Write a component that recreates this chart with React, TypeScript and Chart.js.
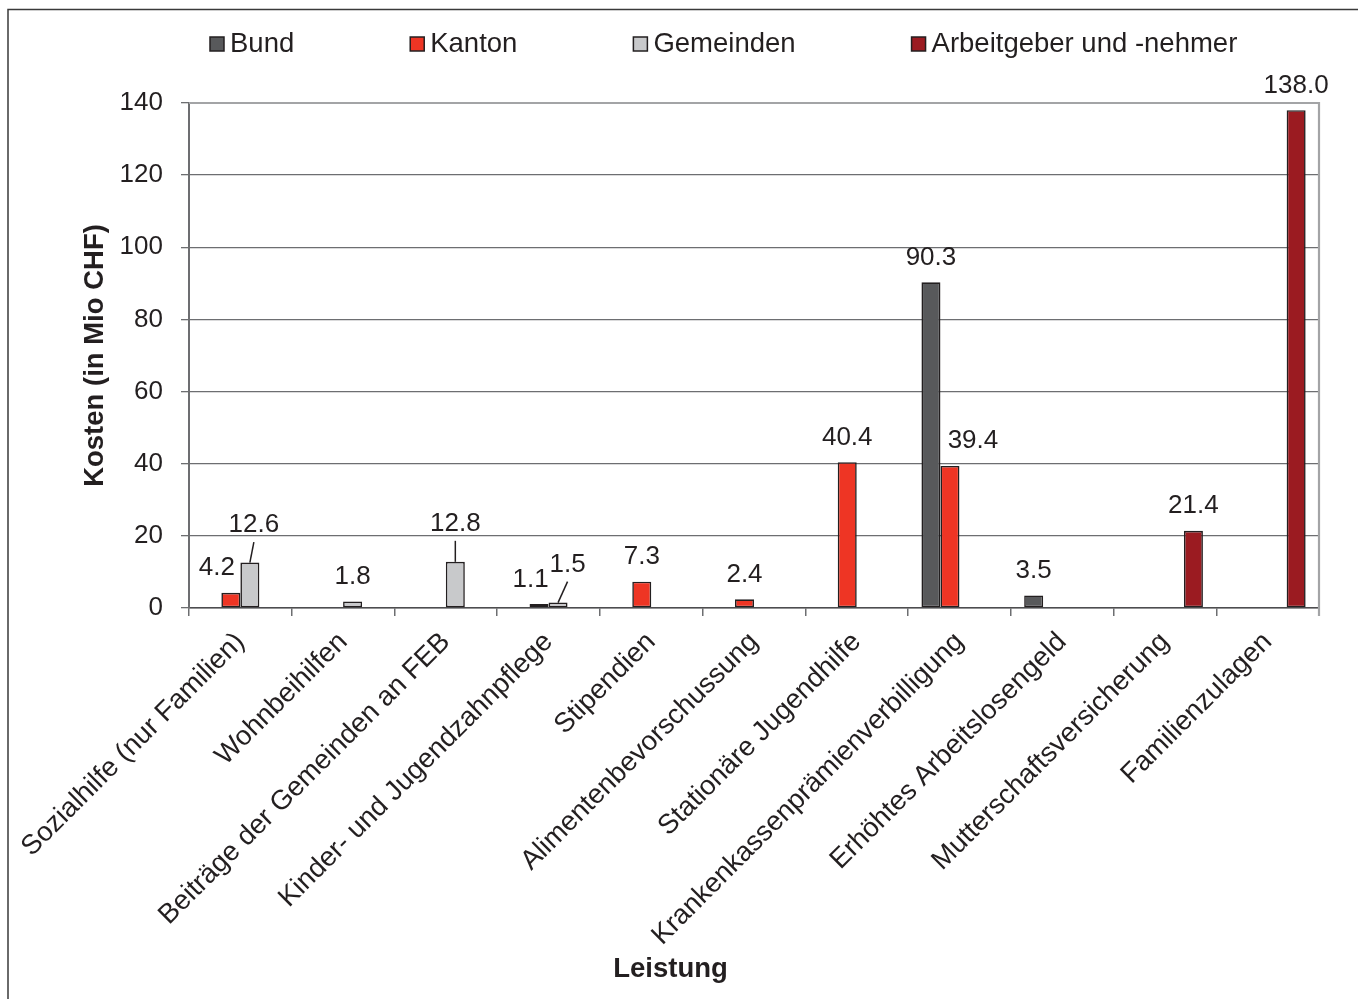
import React, { useEffect, useRef } from 'react';
import { Chart, registerables } from 'chart.js';

Chart.register(...registerables);

// ---------- data ----------
const categories = [
  'Sozialhilfe (nur Familien)',
  'Wohnbeihilfen',
  'Beiträge der Gemeinden an FEB',
  'Kinder- und Jugendzahnpflege',
  'Stipendien',
  'Alimentenbevorschussung',
  'Stationäre Jugendhilfe',
  'Krankenkassenprämienverbilligung',
  'Erhöhtes Arbeitslosengeld',
  'Mutterschaftsversicherung',
  'Familienzulagen',
];

const seriesNames = ['Bund', 'Kanton', 'Gemeinden', 'Arbeitgeber und -nehmer'];

const bund = [null, null, null, null, null, null, null, 90.3, 3.5, null, null];
const kanton = [4.2, null, null, 1.1, 7.3, 2.4, 40.4, 39.4, null, null, null];
const gemeinden = [12.6, 1.8, 12.8, 1.5, null, null, null, null, null, null, null];
const arbeitgeber = [null, null, null, null, null, null, null, null, null, 21.4, 138.0];

const yMin = 0;
const yMax = 140;
const yStep = 20;

const xTitle = 'Leistung';
const yTitle = 'Kosten (in Mio CHF)';

// ---------- styles ----------
const seriesColors = ['#58595b', '#ee3524', '#c8c9cb', '#9b1b21'];
const FONT = "'Liberation Sans', Arial, Helvetica, sans-serif";
const INK = '#231f20';
const GRID = '#6d6e71';

// label nudges (layout only): dataset index, category index, dx, dy, leader line
const labelNudges = [
  { ds: 1, i: 0, dx: -14, dy: 0, leader: false },
  { ds: 2, i: 0, dx: 4, dy: -13, leader: true },
  { ds: 2, i: 2, dx: 0, dy: -13.5, leader: true },
  { ds: 1, i: 3, dx: -8.5, dy: 0, leader: false },
  { ds: 2, i: 3, dx: 9.5, dy: -13.5, leader: true },
  { ds: 1, i: 7, dx: 23, dy: 0, leader: false },
];

const framePlugin = {
  id: 'frame',
  beforeDraw(chart: any) {
    const ctx = chart.ctx;
    ctx.save();
    ctx.strokeStyle = '#3a3a3a';
    ctx.lineWidth = 1.5;
    ctx.beginPath();
    ctx.moveTo(8, chart.height);
    ctx.lineTo(8, 9.5);
    ctx.lineTo(chart.width, 9.5);
    ctx.stroke();
    ctx.restore();
  },
  beforeDatasetsDraw(chart: any) {
    const { ctx, chartArea } = chart;
    ctx.save();
    ctx.strokeStyle = '#a3a4a6';
    ctx.lineWidth = 2.2;
    ctx.beginPath();
    ctx.moveTo(chartArea.left, chartArea.top);
    ctx.lineTo(chartArea.right, chartArea.top);
    ctx.lineTo(chartArea.right, chartArea.bottom + 8);
    ctx.stroke();
    ctx.restore();
  },
};

const valueLabelPlugin = {
  id: 'valueLabels',
  afterDatasetsDraw(chart: any) {
    const ctx = chart.ctx;
    ctx.save();
    ctx.font = `26px ${FONT}`;
    ctx.fillStyle = INK;
    ctx.strokeStyle = INK;
    ctx.lineWidth = 1.5;
    ctx.textAlign = 'center';
    ctx.textBaseline = 'alphabetic';
    chart.data.datasets.forEach((ds: any, d: number) => {
      const meta = chart.getDatasetMeta(d);
      meta.data.forEach((bar: any, i: number) => {
        const v = ds.data[i];
        if (v === null || v === undefined) return;
        const n = labelNudges.find((q) => q.ds === d && q.i === i);
        const lx = bar.x + (n ? n.dx : 0);
        const ly = bar.y - 17.5 + (n ? n.dy : 0);
        ctx.fillText(Number(v).toFixed(1), lx, ly);
        if (n && n.leader) {
          ctx.beginPath();
          ctx.moveTo(bar.x, bar.y);
          ctx.lineTo(lx, ly + 10);
          ctx.stroke();
        }
      });
    });
    ctx.restore();
  },
};

const legendPlugin = {
  id: 'customLegend',
  afterDraw(chart: any) {
    const ctx = chart.ctx;
    ctx.save();
    ctx.font = `27.5px ${FONT}`;
    ctx.textBaseline = 'alphabetic';
    ctx.textAlign = 'left';
    let x = 210;
    chart.data.datasets.forEach((ds: any) => {
      ctx.fillStyle = ds.backgroundColor;
      ctx.fillRect(x, 37, 14, 14);
      ctx.strokeStyle = INK;
      ctx.lineWidth = 1.5;
      ctx.strokeRect(x, 37, 14, 14);
      ctx.fillStyle = INK;
      ctx.fillText(ds.label, x + 20, 52);
      const w = ctx.measureText(ds.label).width;
      x = x + 20 + w + 116;
    });
    ctx.restore();
  },
};

export default function App() {
  const canvasRef = useRef<HTMLCanvasElement | null>(null);

  useEffect(() => {
    if (!canvasRef.current) return;
    const seriesData = [bund, kanton, gemeinden, arbeitgeber];
    const chart = new Chart(canvasRef.current, {
      type: 'bar',
      data: {
        labels: categories,
        datasets: seriesData.map((data, k) => ({
          label: seriesNames[k],
          data,
          backgroundColor: seriesColors[k],
          borderColor: INK,
          borderWidth: 1.6,
          borderSkipped: false,
          categoryPercentage: 0.74,
          barPercentage: 1.0,
        })),
      },
      options: {
        responsive: false,
        animation: false,
        devicePixelRatio: 1,
        layout: { padding: { left: 22, right: 39, top: 103, bottom: 0 } },
        plugins: {
          legend: { display: false },
          tooltip: { enabled: false },
          title: {
            display: true,
            position: 'bottom',
            text: xTitle,
            color: INK,
            font: { family: FONT, size: 27.5, weight: 'bold' },
            padding: { top: 0, bottom: 13 },
          },
        },
        scales: {
          x: {
            grid: {
              display: true,
              drawOnChartArea: false,
              drawTicks: true,
              tickLength: 8,
              color: GRID,
              lineWidth: 1.5,
              offset: true,
            },
            border: { display: true, color: '#4d4d4f', width: 1.5 },
            ticks: {
              autoSkip: false,
              maxRotation: 45,
              minRotation: 45,
              padding: 10,
              color: INK,
              font: { family: FONT, size: 27.5 },
            },
            afterFit: (s: any) => {
              s.height = 345;
            },
          },
          y: {
            min: yMin,
            max: yMax,
            ticks: {
              stepSize: yStep,
              padding: 18,
              color: INK,
              font: { family: FONT, size: 26 },
            },
            grid: { color: GRID, lineWidth: 1.3, tickLength: 8 },
            border: { display: true, color: GRID, width: 2 },
            title: {
              display: true,
              text: yTitle,
              color: INK,
              font: { family: FONT, size: 27.5, weight: 'bold' },
              padding: { top: 57, bottom: 0 },
            },
            afterFit: (s: any) => {
              s.width = 167;
            },
          },
        },
      },
      plugins: [framePlugin, valueLabelPlugin, legendPlugin],
    } as any);
    return () => chart.destroy();
  }, []);

  return (
    <div style={{ position: 'fixed', left: 0, top: 0, width: 1358, height: 999, background: '#ffffff' }}>
      <canvas ref={canvasRef} width={1358} height={999} />
    </div>
  );
}
